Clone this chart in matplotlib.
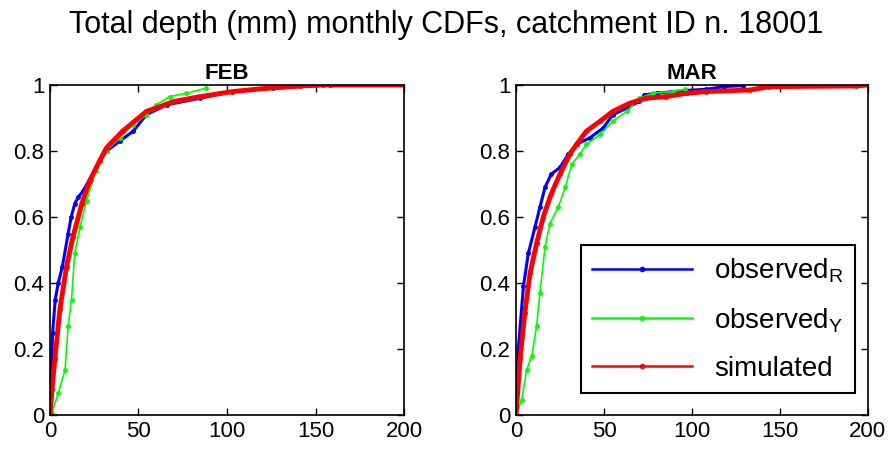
import matplotlib

matplotlib.use("Agg")
import matplotlib.pyplot as plt
from matplotlib.lines import Line2D

plt.rcParams["font.family"] = ["Liberation Sans", "DejaVu Sans"]
plt.rcParams["mathtext.fontset"] = "custom"
plt.rcParams["mathtext.rm"] = "Liberation Sans"

# CDF points: depth (mm) and cumulative probability
FEB_R_X = [0, 0.5, 1.5, 3, 4.7, 7, 10.3, 12, 14, 16, 18.8, 22, 26, 32, 39.5, 47, 54.5, 66, 85, 103, 126, 158]
FEB_R_Y = [0, 0.1, 0.25, 0.35, 0.40, 0.45, 0.55, 0.60, 0.64, 0.66, 0.68, 0.71, 0.75, 0.80, 0.83, 0.86, 0.91, 0.94, 0.96, 0.98, 0.99, 1.0]
FEB_Y_X = [0, 1, 4.7, 8.5, 10.3, 12.2, 14, 17, 20.7, 26, 32, 39.5, 47, 54.5, 60, 67.7, 77, 88]
FEB_Y_Y = [0, 0.005, 0.066, 0.136, 0.27, 0.35, 0.49, 0.57, 0.65, 0.74, 0.80, 0.84, 0.88, 0.91, 0.94, 0.965, 0.975, 0.99]
FEB_S_X = [0, 1.2, 2.8, 5.6, 9.4, 13, 18, 22.5, 28, 32, 41, 54.5, 70, 85, 103, 122, 141, 154, 230]
FEB_S_Y = [0, 0.08, 0.17, 0.32, 0.45, 0.54, 0.64, 0.71, 0.77, 0.81, 0.86, 0.92, 0.95, 0.965, 0.98, 0.99, 0.997, 1.0, 1.0]

MAR_R_X = [0, 1.3, 4.2, 7, 10.8, 13.6, 16.5, 20, 25, 29.7, 34.4, 42, 49.6, 55, 63, 70, 73, 80, 95, 108, 118, 129]
MAR_R_Y = [0, 0.2, 0.39, 0.49, 0.57, 0.63, 0.69, 0.73, 0.75, 0.79, 0.82, 0.84, 0.87, 0.91, 0.93, 0.95, 0.97, 0.975, 0.983, 0.987, 0.995, 0.998]
MAR_Y_X = [0, 3.2, 6, 9, 11.7, 13.6, 16.5, 19.3, 24, 28, 31.6, 36.3, 40, 47.7, 55, 63, 70, 78, 89, 96]
MAR_Y_Y = [0, 0.045, 0.136, 0.18, 0.27, 0.37, 0.51, 0.58, 0.63, 0.69, 0.76, 0.79, 0.82, 0.85, 0.89, 0.92, 0.96, 0.975, 0.98, 0.987]
MAR_S_X = [0, 2.3, 5, 8, 11.7, 15.5, 20, 25, 30.6, 34.4, 40, 47.7, 55, 64.7, 74, 85.5, 97, 108, 133, 144, 193, 200]
MAR_S_Y = [0, 0.17, 0.31, 0.43, 0.52, 0.60, 0.67, 0.73, 0.79, 0.82, 0.86, 0.89, 0.92, 0.945, 0.96, 0.965, 0.975, 0.98, 0.985, 0.995, 0.997, 1.0]

MONTHS = ["FEB", "MAR"]
SERIES = {
    "FEB": [(FEB_R_X, FEB_R_Y), (FEB_Y_X, FEB_Y_Y), (FEB_S_X, FEB_S_Y)],
    "MAR": [(MAR_R_X, MAR_R_Y), (MAR_Y_X, MAR_Y_Y), (MAR_S_X, MAR_S_Y)],
}
LABELS = [r"observed$_\mathregular{R}$", r"observed$_\mathregular{Y}$", "simulated"]
COLORS = ["#0000ff", "#00ff00", "#ff0000"]
WIDTHS = [2.2, 1.2, 3.5]
XTICKS = [0, 50, 100, 150, 200]
YTICKS = [0, 0.2, 0.4, 0.6, 0.8, 1]
YTICKLABELS = ["0", "0.2", "0.4", "0.6", "0.8", "1"]

fig = plt.figure(figsize=(8.92, 4.49), dpi=100)
axes = [fig.add_axes([0.056, 0.0757, 0.397, 0.735]),
        fig.add_axes([0.5785, 0.0757, 0.3945, 0.735])]

for ax, month in zip(axes, MONTHS):
    for (x, y), c, lw in zip(SERIES[month], COLORS, WIDTHS):
        ax.plot(x, y, color=c, lw=lw, marker=".", ms=5)
    ax.set_xlim(0, 200)
    ax.set_ylim(0, 1)
    ax.set_xticks(XTICKS)
    ax.set_yticks(YTICKS)
    ax.set_yticklabels(YTICKLABELS)
    ax.tick_params(direction="in", top=True, right=True, length=5, width=1,
                   labelsize=16, pad=4)
    for sp in ax.spines.values():
        sp.set_linewidth(1.2)
    ax.set_title(month, fontsize=16, fontweight="bold", pad=4)

handles = [Line2D([], [], color=c, lw=1.8, marker=".", ms=6) for c in COLORS]
leg = axes[1].legend(handles, LABELS, loc="lower right", bbox_to_anchor=(0.963, 0.067),
                     borderaxespad=0, fontsize=20, frameon=True, fancybox=False,
                     edgecolor="black", framealpha=1, handlelength=3.6,
                     labelspacing=0.75, borderpad=0.4, handletextpad=0.8)
leg.get_frame().set_linewidth(1.5)

fig.suptitle("Total depth (mm) monthly CDFs, catchment ID n. 18001",
             fontsize=22, y=0.945, va="center")
fig.savefig("out.png", dpi=100)
